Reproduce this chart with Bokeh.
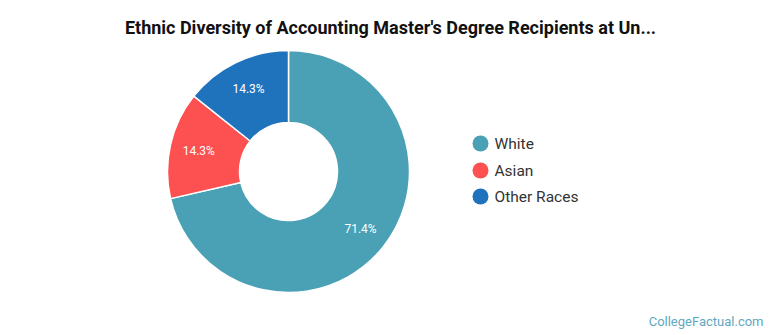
import math
from bokeh.plotting import figure
from bokeh.models import ColumnDataSource
from bokeh.core.properties import value
from bokeh.embed import file_html
from bokeh.resources import INLINE

# ---- data ----
categories = ["White", "Asian", "Other Races"]
shares = [71.4, 14.3, 14.3]
labels = ["71.4%", "14.3%", "14.3%"]
colors = ["#4aa1b5", "#fd5050", "#1f72bc"]
title_text = "Ethnic Diversity of Accounting Master's Degree Recipients at Un..."
credit = "CollegeFactual.com"

W, H = 770, 335
cx, cy = 288, H - 171
r_out, r_in, r_lab = 121, 49, 92

total = sum(shares)
starts, ends, lx, ly = [], [], [], []
cum = 0.0
for s in shares:
    f0 = cum / total
    f1 = (cum + s) / total
    # clockwise from 12 o'clock
    starts.append(math.pi / 2 - f1 * 2 * math.pi)
    ends.append(math.pi / 2 - f0 * 2 * math.pi)
    mid = (f0 + f1) / 2 * 2 * math.pi
    lx.append(cx + r_lab * math.sin(mid))
    ly.append(cy + r_lab * math.cos(mid))
    cum += s

src = ColumnDataSource(dict(cat=categories, start=starts, end=ends, color=colors,
                            lab=labels, lx=lx, ly=ly))

p = figure(width=W, height=H, x_range=(0, W), y_range=(0, H),
           output_backend="svg", toolbar_location=None, min_border=0,
           outline_line_color=None, background_fill_color="white")
p.axis.visible = False
p.grid.visible = False

p.annular_wedge(x=cx, y=cy, inner_radius=r_in, outer_radius=r_out,
                start_angle="start", end_angle="end", direction="anticlock",
                fill_color="color", line_color="white", line_width=1.5, source=src)

p.text(x="lx", y="ly", text="lab", source=src, text_color="white",
       text_font=value("Roboto"), text_font_size="12px",
       text_align="center", text_baseline="middle")

# legend
leg_y = [H - 143, H - 170, H - 196]
leg_src = ColumnDataSource(dict(x=[480] * 3, tx=[494] * 3, y=leg_y,
                                cat=categories, color=colors))
p.scatter(x="x", y="y", source=leg_src, size=16, fill_color="color", line_color=None)
p.text(x="tx", y="y", text="cat", source=leg_src, text_color="#333333",
       text_font=value("Roboto"), text_font_size="15.5px",
       text_align="left", text_baseline="middle")

# title
p.text(x=[390], y=[H - 27], text=[title_text], text_color="#111111",
       text_font=value("Roboto"), text_font_size="18px", text_font_style="bold",
       text_align="center", text_baseline="middle")

# credit
p.text(x=[763], y=[H - 321], text=[credit], text_color="#5fa8c0",
       text_font=value("Roboto"), text_font_size="13px",
       text_align="right", text_baseline="middle")

open("out.html", "w").write(file_html(p, INLINE))
